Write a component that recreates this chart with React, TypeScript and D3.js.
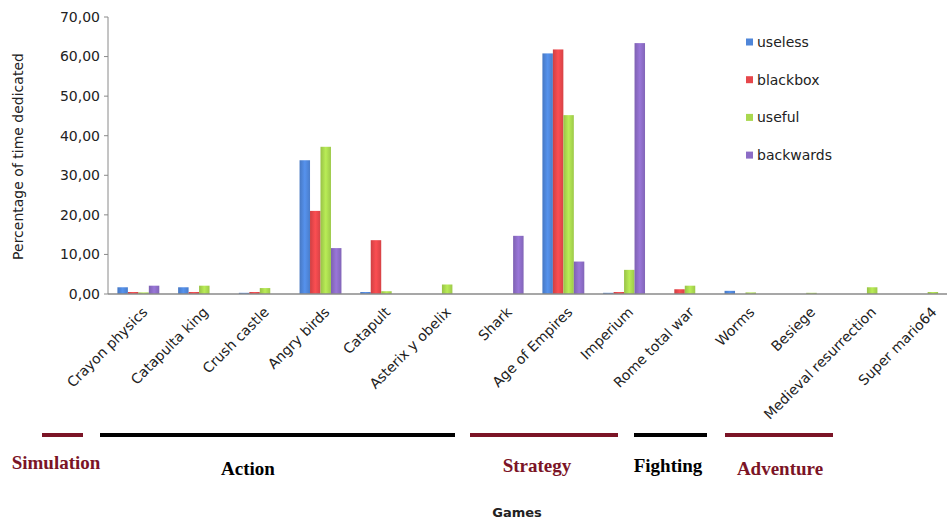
import React from "react";
import * as d3 from "d3";

const categories = [
  "Crayon physics", "Catapulta king", "Crush castle", "Angry birds", "Catapult",
  "Asterix y obelix", "Shark", "Age of Empires", "Imperium", "Rome total war",
  "Worms", "Besiege", "Medieval resurrection", "Super mario64",
];
const seriesNames = ["useless", "blackbox", "useful", "backwards"];
const useless = [1.7, 1.7, 0.3, 33.8, 0.5, 0, 0, 60.8, 0.3, 0, 0.8, 0, 0, 0];
const blackbox = [0.5, 0.5, 0.5, 21.0, 13.6, 0, 0, 61.8, 0.5, 1.2, 0, 0, 0, 0];
const useful = [0.4, 2.1, 1.5, 37.2, 0.7, 2.4, 0, 45.2, 6.1, 2.1, 0.4, 0.3, 1.7, 0.5];
const backwards = [2.1, 0, 0, 11.6, 0, 0, 14.7, 8.2, 63.4, 0, 0, 0, 0, 0];
const seriesColors = ["#4f86d9", "#e6474b", "#a9d84f", "#8c6cc6"];
const yTicks = [0, 10, 20, 30, 40, 50, 60, 70];

const groupNames = ["Simulation", "Action", "Strategy", "Fighting", "Adventure"];
const groupColors = ["#7b1426", "#000000", "#7b1426", "#000000", "#7b1426"];
const groupLineStart = [42, 100, 470, 634, 725];
const groupLineEnd = [83, 455, 618, 707, 833];
const groupLabelX = [56, 248, 537, 668, 780];
const groupLabelY = [469, 475, 472, 472, 475];

const W = 947;
const H = 523;

export default function App() {
  const values = [useless, blackbox, useful, backwards];
  const x0 = d3.scaleBand().domain(categories).range([108, 958]).paddingInner(0.31).paddingOuter(0.155);
  const x1 = d3.scaleBand().domain(seriesNames).range([0, x0.bandwidth()]);
  const y = d3.scaleLinear().domain([0, 70]).range([294, 17]);
  const fmt = (v: number) => d3.format(".2f")(v).replace(".", ",");
  const font = "'DejaVu Sans', 'Open Sans', sans-serif";

  return (
    <svg width={W} height={H} style={{ position: "absolute", left: 0, top: 0, background: "#fff" }} fontFamily={font}>
      <defs>
        {seriesColors.map((c, i) => (
          <linearGradient key={i} id={`g${i}`} x1="0" x2="1" y1="0" y2="0">
            <stop offset="0" stopColor={d3.color(c)!.darker(0.3).toString()} />
            <stop offset="0.5" stopColor={d3.color(c)!.brighter(0.25).toString()} />
            <stop offset="1" stopColor={d3.color(c)!.darker(0.2).toString()} />
          </linearGradient>
        ))}
      </defs>
      {/* y axis */}
      <line x1={108} x2={108} y1={y(70)} y2={y(0)} stroke="#8a8a8a" strokeWidth={1} />
      {yTicks.map((t) => (
        <g key={t}>
          <line x1={104} x2={108} y1={y(t)} y2={y(t)} stroke="#8a8a8a" />
          <text x={100} y={y(t)} dy="0.35em" textAnchor="end" fontSize={14} fill="#222">
            {fmt(t)}
          </text>
        </g>
      ))}
      <text transform={`translate(23,${(y(70) + y(0)) / 2 + 1}) rotate(-90)`} textAnchor="middle" fontSize={14} fill="#222">
        Percentage of time dedicated
      </text>
      {/* bars */}
      {categories.map((c, ci) => (
        <g key={c} transform={`translate(${x0(c)},0)`}>
          {seriesNames.map((s, si) => {
            const v = values[si][ci];
            if (v <= 0) return null;
            return (
              <rect key={s} x={x1(s)} width={x1.bandwidth()} y={y(v)} height={y(0) - y(v)} fill={`url(#g${si})`} />
            );
          })}
        </g>
      ))}
      <line x1={108} x2={958} y1={y(0)} y2={y(0)} stroke="#8a8a8a" strokeWidth={1.5} />
      {/* x labels */}
      {categories.map((c) => {
        const cx = (x0(c) as number) + x0.bandwidth() / 2 + 10;
        return (
          <text key={c} transform={`translate(${cx},${313}) rotate(-45)`} textAnchor="end" fontSize={14} fill="#222">
            {c}
          </text>
        );
      })}
      {/* legend */}
      {seriesNames.map((s, i) => (
        <g key={s} transform={`translate(746,${42 + i * 37.7})`}>
          <rect x={0} y={-3.5} width={7} height={7} fill={seriesColors[i]} />
          <text x={11} y={0} dy="0.35em" fontSize={14} fill="#222">
            {s}
          </text>
        </g>
      ))}
      {/* group annotations */}
      {groupNames.map((g, i) => (
        <g key={g}>
          <line x1={groupLineStart[i]} x2={groupLineEnd[i]} y1={435} y2={435} stroke={groupColors[i]} strokeWidth={4} />
          <text x={groupLabelX[i]} y={groupLabelY[i]} textAnchor="middle" fontFamily="'Liberation Serif', serif" fontWeight="bold" fontSize={19} fill={groupColors[i]}>
            {g}
          </text>
        </g>
      ))}
      <text x={517} y={517} textAnchor="middle" fontSize={13} fontWeight="bold" fill="#222">
        Games
      </text>
    </svg>
  );
}
